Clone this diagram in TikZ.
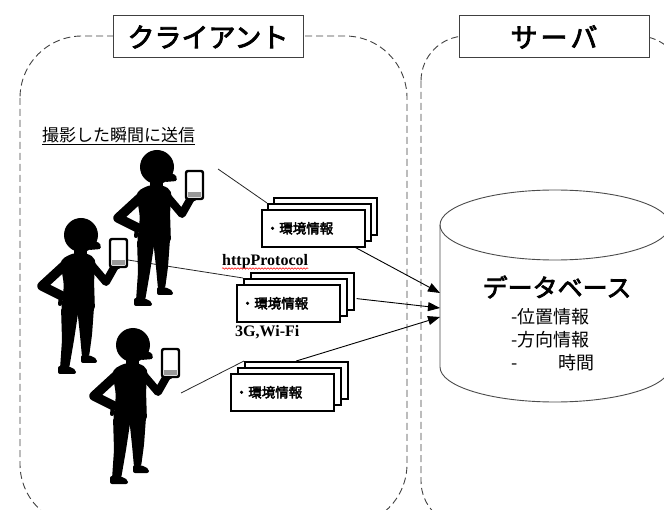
\documentclass[tikz,border=0pt]{standalone}
\usepackage{fontspec}
\setmainfont{Liberation Serif}
\newfontfamily\jp[AutoFakeBold=3]{Noto Sans CJK JP}
\usetikzlibrary{arrows.meta,calc,decorations.pathmorphing}

\tikzset{
  % silhouette of a person holding a phone, head centre at the origin
  person/.pic={
    % legs and feet
    \fill[rounded corners=3pt] (-20,72) -- (-2,72) -- (-7,105) -- (-12,134) -- (-21,134) -- (-19,105) -- cycle;
    \fill[rounded corners=2pt] (-23,131) -- (-13,131) -- (-5,135) -- (-5,139) -- (-23,139) -- cycle;
    \fill[rounded corners=3pt] (-4,72) -- (13,72) -- (11,100) -- (8,122) -- (1,122) -- (-1,100) -- cycle;
    \fill[rounded corners=2pt] (0,120) -- (8,120) -- (16,124) -- (16,128) -- (0,128) -- cycle;
    % torso and neck
    \fill[rounded corners=5pt] (-21,25) -- (-8,18) -- (6,18) -- (15,24) -- (13,45) -- (14,77) -- (-20,77) -- (-17,50) -- cycle;
    \fill (-7,10) rectangle (6,24);
    % arm on the hip
    \draw[line width=9.5pt, line cap=round, line join=round] (-15,29) -- (-39,51) -- (-19,61);
    \draw[line width=4pt, line cap=round] (-20,61) -- (-21,69);
    % arm raising the phone
    \draw[line width=8pt, line cap=round, line join=round] (8,27) -- (25,47) -- (34,31);
    \fill (35,30) circle[radius=5pt];
    % head and cap brim
    \fill (0,0) circle[radius=17pt];
    \fill[rounded corners=1.5pt] (6,4) -- (19,8) -- (20,14) -- (8,15) -- cycle;
    % phone
    \filldraw[fill=white, draw=black, line width=2.4pt, rounded corners=2pt] (29,4) rectangle (46,32);
    \fill[black!40] (31,25) rectangle (44,30.5);
  }
}

\begin{document}
\begin{tikzpicture}[x=1pt, y=-1pt,
  region/.style={draw=black!75, line width=0.9pt, dash pattern=on 7pt off 4pt},
  titlebox/.style={draw=black!75, line width=1pt, fill=white, minimum width=190pt,
    minimum height=42pt, inner sep=0pt, font=\jp\bfseries\fontsize{27}{30}\selectfont},
  envbox/.style={draw=black, line width=1.6pt, fill=white, minimum width=103pt,
    minimum height=37pt, inner sep=0pt, anchor=north west},
  envfront/.style={envbox, text width=95pt, inner xsep=4pt, align=left,
    font=\jp\bfseries\fontsize{13.5}{15}\selectfont},
  wire/.style={draw=black!85, line width=0.8pt},
  flow/.style={draw=black, line width=0.9pt, -{Triangle[length=12pt,width=9pt]}},
  cyl/.style={draw=black!70, line width=0.9pt},
  latin/.style={font=\bfseries\fontsize{16}{18}\selectfont, inner sep=0pt, anchor=base west},
]
\useasboundingbox (0,0) rectangle (664,510);
\clip (0,0) rectangle (664,510);

% dashed regions and their titles
\draw[region, rounded corners=62pt] (20,36) rectangle (407,526);
\draw[region, rounded corners=45pt] (421,36) rectangle (683,526);
\node[titlebox] (client) at (208,37) {クライアント};
\node[titlebox] (server) at (554,37) {サ\hspace{3pt}ー\hspace{3pt}バ};

% caption of the client side
\node[font=\jp\fontsize{17}{19}\selectfont, anchor=west, inner sep=0pt] (shot) at (42,135) {撮影した瞬間に送信};
\draw[line width=0.8pt] ([yshift=-2.5pt]shot.base west) -- ([yshift=-2.5pt]shot.base east);

% database cylinder
\filldraw[cyl, fill=white] (440,225) -- (440,367)
  arc[start angle=180, end angle=360, x radius=115pt, y radius=35pt] -- (670,225)
  arc[start angle=0, end angle=180, x radius=115pt, y radius=35pt] -- cycle;
\draw[cyl] (440,225) arc[start angle=180, end angle=360, x radius=115pt, y radius=35pt];
\node[font=\jp\bfseries\fontsize{25}{28}\selectfont] (db) at (557,287) {データベース};
\node[font=\jp\fontsize{18}{20}\selectfont, anchor=west, inner sep=0pt] (f1) at (511,317) {-位置情報};
\node[font=\jp\fontsize{18}{20}\selectfont, anchor=west, inner sep=0pt] (f2) at (511,340) {-方向情報};
\node[font=\jp\fontsize{18}{20}\selectfont, anchor=west, inner sep=0pt] (f3) at (511,363) {-\hspace{41pt}時間};
\coordinate (in1) at (440,293);
\coordinate (in2) at (440,308);
\coordinate (in3) at (440,317);

% where the phones send from
\coordinate (tA) at (218,169);
\coordinate (tB) at (128,260);
\coordinate (tC) at (181,393);

% stacks of messages
\node[envbox] (sA3) at (273,197) {};
\node[envbox] (sA2) at (267,203) {};
\node[envbox] (sB3) at (250,272) {};
\node[envbox] (sB2) at (243,278) {};
\node[envbox] (sC3) at (244,361) {};
\node[envbox] (sC2) at (237,367) {};

\draw[wire] (tA) -- (sA2.north west);
\draw[wire] (tB) -- (sB2.north west);
\draw[wire] (tC) -- (sC3.north west);

\node[envbox] (sA3) at (273,197) {};
\node[envbox] (sA2) at (267,203) {};
\node[envfront] (sA1) at (261,209) {・環境情報};
\node[envbox] (sB3) at (250,272) {};
\node[envbox] (sB2) at (243,278) {};
\node[envfront] (sB1) at (236,284) {・環境情報};
\node[envbox] (sC3) at (244,361) {};
\node[envbox] (sC2) at (237,367) {};
\node[envfront] (sC1) at (230,373) {・環境情報};

% transfer labels
\node[latin] (http) at (222,266) {httpProtocol};
\draw[red, line width=0.5pt, decorate, decoration={snake, amplitude=0.8pt, segment length=3pt}]
  ([yshift=-2.5pt]http.base west) -- ([yshift=-2.5pt]http.base east);
\node[latin] (net) at (235,337) {3G,Wi-Fi};

% arrows into the database
\draw[flow] ($(sA1.south east)+(-10,0)$) -- (in1);
\draw[flow] ($(sB3.south east)+(2,-12)$) -- (in2);
\draw[flow] (sC3.north) -- (in3);

% the three users
\pic at (157,167) {person};
\pic at (81,235) {person};
\pic at (133,345) {person};
\end{tikzpicture}
\end{document}
